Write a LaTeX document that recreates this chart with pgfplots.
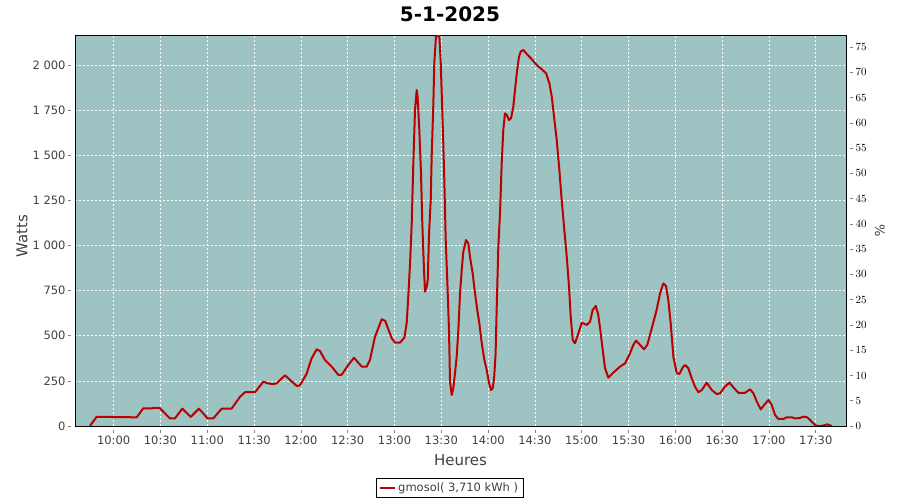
\documentclass[border=0pt]{standalone}
\usepackage{fontspec}
\setmainfont{DejaVu Sans}
\usepackage{pgfplots}
\pgfplotsset{compat=1.18}
\definecolor{bgc}{RGB}{158,195,195}
\definecolor{linec}{RGB}{187,0,0}
\definecolor{axg}{RGB}{128,128,128}
\definecolor{lblg}{RGB}{64,64,64}
\begin{document}
\begin{tikzpicture}[x=1pt,y=1pt]
\path[use as bounding box] (0,0) rectangle (900,500);
\node[font=\fontsize{20}{23}\selectfont\bfseries] at (450,486) {5-1-2025};
\begin{axis}[
  at={(75pt,74pt)}, anchor=south west,
  width=771pt, height=391pt, scale only axis,
  xmin=9.587, xmax=17.823, ymin=0, ymax=2166,
  axis background/.style={fill=bgc},
  axis line style={black, line width=0.8pt},
  grid=major, grid style={white, dash pattern=on 2pt off 2pt, line width=0.6pt},
  xtick={10,10.5,...,17.5},
  xticklabels={10:00,10:30,11:00,11:30,12:00,12:30,13:00,13:30,14:00,14:30,15:00,15:30,16:00,16:30,17:00,17:30},
  ytick={0,250,500,750,1000,1250,1500,1750,2000},
  yticklabels={0,250,500,750,1 000,1 250,1 500,1 750,2 000},
  tick align=outside, major tick length=3pt,
  xtick pos=bottom, ytick pos=left,
  xtick style={axg, yshift=-4pt, line width=0.6pt},
  ytick style={axg, xshift=-4pt, line width=0.6pt},
  ticklabel style={font=\fontsize{11.5}{13}\selectfont, text=lblg},
  xticklabel style={yshift=-3pt},
  yticklabel style={xshift=-3pt},
  xlabel={Heures}, ylabel={Watts},
  xlabel style={at={(axis description cs:0.5,-0.087)}, anchor=center, font=\fontsize{15}{17}\selectfont, text=lblg},
  ylabel style={at={(axis description cs:-0.0687,0.486)}, anchor=center, font=\fontsize{15}{17}\selectfont, text=lblg},
  legend style={at={(axis description cs:0.486,-0.159)}, anchor=center, draw=black, line width=0.6pt,
    font=\fontsize{11.5}{13}\selectfont, text=lblg, inner xsep=3pt, inner ysep=2.5pt},
  legend image code/.code={\draw[#1, line width=2pt] (0pt,0pt) -- (15pt,0pt);},
]
\draw[axg, line width=0.8pt] ([xshift=-4pt]rel axis cs:0,0) -- ([xshift=-4pt]rel axis cs:0,1);
\draw[axg, line width=0.8pt] ([yshift=-4pt]rel axis cs:0,0) -- ([yshift=-4pt]rel axis cs:1,0);
\addplot[linec, line width=2pt, line join=round] coordinates {
(9.747,0) (9.818,51) (10.246,48) (10.316,98) (10.40,98) (10.476,101) (10.495,98)
(10.60,42) (10.655,42) (10.733,96) (10.823,50) (10.911,96) (11.004,42) (11.064,42)
(11.154,96) (11.26,96) (11.35,162) (11.403,187) (11.51,187) (11.598,245) (11.652,236)
(11.70,232) (11.74,236) (11.83,281) (11.955,222) (11.99,225) (12.06,288) (12.115,375)
(12.169,425) (12.204,415) (12.257,366) (12.329,329) (12.40,283) (12.436,284) (12.506,338)
(12.567,378) (12.65,329) (12.703,329) (12.738,366) (12.79,491) (12.863,591) (12.90,583)
(12.97,486) (13.005,462) (13.059,462) (13.105,489) (13.13,569) (13.147,716) (13.166,901)
(13.184,1123) (13.20,1437) (13.219,1751) (13.237,1861) (13.247,1824) (13.265,1640)
(13.283,1400) (13.297,1123) (13.315,864) (13.326,744) (13.344,772) (13.355,809)
(13.369,1067) (13.387,1252) (13.397,1492) (13.415,1788) (13.425,2009) (13.443,2160)
(13.479,2160) (13.494,2009) (13.51,1751) (13.52,1584) (13.532,1363) (13.547,1030)
(13.565,790) (13.582,532) (13.593,246) (13.611,172) (13.628,209) (13.646,292) (13.664,384)
(13.682,532) (13.70,735) (13.718,864) (13.735,966) (13.764,1030) (13.788,1012) (13.806,938)
(13.835,846) (13.86,735) (13.884,643) (13.906,569) (13.932,458) (13.96,366) (13.985,310)
(14.01,236) (14.031,199) (14.049,209) (14.065,273) (14.08,403) (14.092,661) (14.109,993)
(14.127,1178) (14.145,1455) (14.162,1640) (14.18,1732) (14.199,1723) (14.223,1695)
(14.245,1705) (14.269,1769) (14.287,1861) (14.306,1954) (14.33,2046) (14.348,2074)
(14.376,2083) (14.412,2061) (14.466,2032) (14.519,2000) (14.573,1976) (14.619,1954)
(14.654,1899) (14.68,1824) (14.704,1714) (14.733,1584) (14.761,1418) (14.786,1252)
(14.811,1104) (14.84,938) (14.864,772) (14.882,606) (14.904,476) (14.928,458) (14.964,513)
(15.0,572) (15.053,560) (15.089,578) (15.117,643) (15.15,665) (15.177,615) (15.203,513)
(15.224,421) (15.249,320) (15.284,268) (15.337,295) (15.409,329) (15.463,347) (15.516,403)
(15.551,449) (15.58,473) (15.623,449) (15.666,425) (15.70,449) (15.748,541) (15.80,643)
(15.837,735) (15.872,790) (15.9,776) (15.925,698) (15.95,569) (15.979,384) (16.015,292)
(16.043,288) (16.079,325) (16.104,338) (16.139,320) (16.175,264) (16.21,218) (16.246,187)
(16.282,199) (16.335,240) (16.389,199) (16.442,177) (16.478,181) (16.53,218) (16.577,240)
(16.62,214) (16.673,184) (16.745,184) (16.798,203) (16.834,181) (16.87,135) (16.912,92)
(16.958,122) (16.994,144) (17.03,116) (17.065,61) (17.10,39) (17.154,39) (17.19,48)
(17.244,48) (17.279,42) (17.33,44) (17.368,52) (17.41,48) (17.44,33) (17.474,15)
(17.503,2) (17.55,0) (17.583,3) (17.624,9) (17.653,3) (17.67,0)
};
\addlegendentry{gmosol( 3,710 kWh )}
\end{axis}
\begin{axis}[
  at={(75pt,74pt)}, anchor=south west,
  width=771pt, height=391pt, scale only axis,
  xmin=9.587, xmax=17.823, ymin=0, ymax=77.4,
  axis y line*=right, axis x line=none,
  axis line style={draw=none},
  ytick={0,5,...,75},
  tick align=outside, major tick length=3pt,
  ytick style={axg, xshift=4pt, line width=0.6pt},
  xtick=\empty,
  ticklabel style={font=\fontsize{10.5}{12}\selectfont, text=black},
  yticklabel style={xshift=3pt},
  ylabel={\%},
  ylabel style={at={(axis description cs:1.044,0.5)}, anchor=center, rotate=180, font=\fontsize{13}{15}\selectfont, text=lblg},
]
\draw[axg, line width=0.8pt] ([xshift=4pt]rel axis cs:1,0) -- ([xshift=4pt]rel axis cs:1,1);
\addplot[draw=none] coordinates {(10,0)};
\end{axis}
\end{tikzpicture}
\end{document}
